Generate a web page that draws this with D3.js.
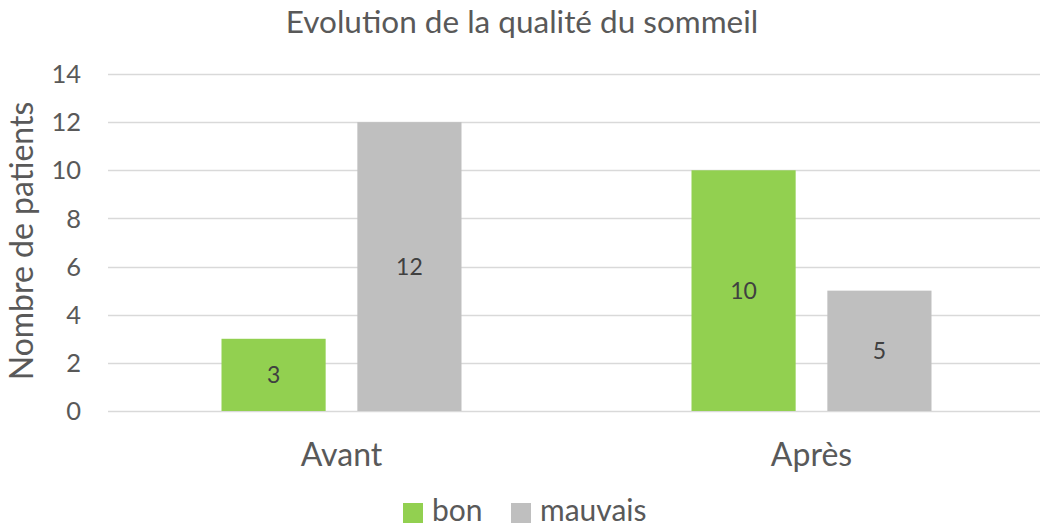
<!DOCTYPE html>
<html>
<head>
<meta charset="utf-8">
<script src="https://cdn.jsdelivr.net/npm/d3@7"></script>
<style>
  body { margin: 0; background: #fff; overflow: hidden; }
  svg text { font-family: Lato, "Open Sans", sans-serif; fill: #595959; }
</style>
</head>
<body>
<svg id="chart" width="1040" height="528"></svg>
<script>
// data
const categories = ['Avant', 'Après'];
const seriesNames = ['bon', 'mauvais'];
const bonValues = [3, 10];
const mauvaisValues = [12, 5];
const yTicks = [0, 2, 4, 6, 8, 10, 12, 14];
const colors = { bon: '#92D050', mauvais: '#BFBFBF' };

const svg = d3.select('#chart');

const x0 = d3.scaleBand()
    .domain(categories)
    .range([106.5, 1046.5])
    .paddingInner(0)
    .paddingOuter(0);

// bars: 106 wide, 28 gap, centered in band
const x1 = d3.scaleBand()
    .domain(seriesNames)
    .range([115, 355])
    .paddingInner(28 / 120);

const y = d3.scaleLinear()
    .domain([0, 14])
    .range([411, 74]);

// grid
svg.append('g')
    .selectAll('line')
    .data(yTicks)
    .enter()
    .append('line')
    .attr('x1', 108)
    .attr('x2', 1040)
    .attr('y1', d => Math.round(y(d)) + 0.5)
    .attr('y2', d => Math.round(y(d)) + 0.5)
    .attr('stroke', '#D9D9D9')
    .attr('stroke-width', 1.3);

// y tick labels
svg.append('g')
    .selectAll('text')
    .data(yTicks)
    .enter()
    .append('text')
    .attr('x', 81)
    .attr('y', d => y(d))
    .attr('dy', '0.36em')
    .attr('text-anchor', 'end')
    .style('font-size', '25.5px')
    .text(d => d);

// bars
const rows = categories.map((c, i) => ({ cat: c, bon: bonValues[i], mauvais: mauvaisValues[i] }));

const groups = svg.append('g')
    .selectAll('g')
    .data(rows)
    .enter()
    .append('g')
    .attr('transform', d => `translate(${x0(d.cat)},0)`);

groups.selectAll('rect')
    .data(d => seriesNames.map(s => ({ key: s, value: d[s] })))
    .enter()
    .append('rect')
    .attr('x', d => x1(d.key))
    .attr('width', x1.bandwidth())
    .attr('y', d => y(d.value))
    .attr('height', d => y(0) - y(d.value))
    .attr('fill', d => colors[d.key]);

groups.selectAll('text.val')
    .data(d => seriesNames.map(s => ({ key: s, value: d[s] })))
    .enter()
    .append('text')
    .attr('class', 'val')
    .attr('x', d => x1(d.key) + x1.bandwidth() / 2)
    .attr('y', d => (y(d.value) + y(0)) / 2)
    .attr('dy', '0.36em')
    .attr('text-anchor', 'middle')
    .style('font-size', '23px')
    .style('fill', '#404040')
    .text(d => d.value);

// category labels
svg.append('g')
    .selectAll('text')
    .data(categories)
    .enter()
    .append('text')
    .attr('x', d => x0(d) + x0.bandwidth() / 2)
    .attr('y', 466)
    .attr('text-anchor', 'middle')
    .style('font-size', '32px')
    .text(d => d);

// title
svg.append('text')
    .attr('x', 522)
    .attr('y', 33)
    .attr('text-anchor', 'middle')
    .style('font-size', '31.5px')
    .text('Evolution de la qualité du sommeil');

// y axis title
svg.append('text')
    .attr('transform', 'translate(33,241) rotate(-90)')
    .attr('text-anchor', 'middle')
    .style('font-size', '32px')
    .text('Nombre de patients');

// legend (nudged up a little so the text stays inside the frame)
const legendX = [403, 511];
const legend = svg.append('g')
    .selectAll('g')
    .data(seriesNames)
    .enter()
    .append('g')
    .attr('transform', (d, i) => `translate(${legendX[i]},503)`);

legend.append('rect')
    .attr('width', 20)
    .attr('height', 20)
    .attr('fill', d => colors[d]);

legend.append('text')
    .attr('x', 29)
    .attr('y', 18)
    .style('font-size', '30px')
    .text(d => d);
</script>
</body>
</html>
